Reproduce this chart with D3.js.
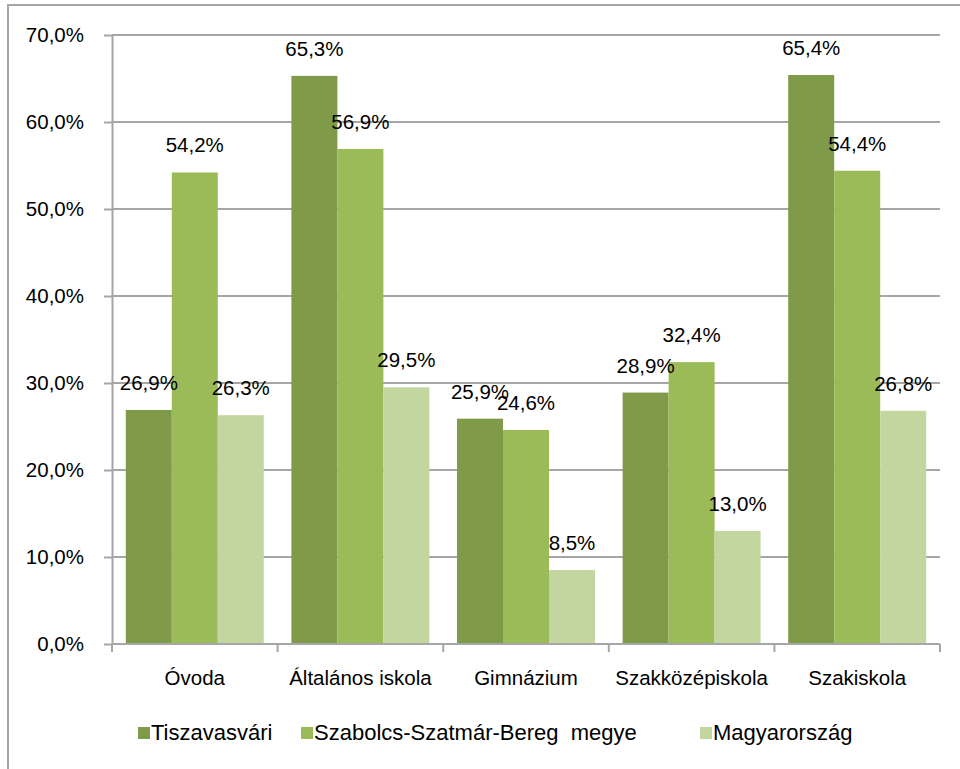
<!DOCTYPE html>
<html>
<head>
<meta charset="utf-8">
<style>
  body { margin: 0; background: #fff; }
  text { font-family: "Liberation Sans", Arial, sans-serif; font-size: 20.5px; fill: #000; }
  .frame { stroke: #a6a6a6; stroke-width: 2px; fill: none; }
  .grid line { stroke: #a6a6a6; stroke-width: 2px; }
  .axis path, .axis line { stroke: #a6a6a6; stroke-width: 2px; fill: none; }
  .label { text-anchor: middle; }
  .legtext { font-size: 22px; }
</style>
</head>
<body>
<div id="chart"></div>
<script src="https://cdn.jsdelivr.net/npm/d3@7"></script>
<script>
var categories = ["Óvoda", "Általános iskola", "Gimnázium", "Szakközépiskola", "Szakiskola"];
var seriesNames = ["Tiszavasvári", "Szabolcs-Szatmár-Bereg  megye", "Magyarország"];
var tiszavasvari = [26.9, 65.3, 25.9, 28.9, 65.4];
var megye = [54.2, 56.9, 24.6, 32.4, 54.4];
var magyarorszag = [26.3, 29.5, 8.5, 13.0, 26.8];
var yTicks = [0, 10, 20, 30, 40, 50, 60, 70];
var colors = ["#7f9a48", "#9bbb59", "#c4d6a0"];

var width = 960, height = 769;
var plotLeft = 112, plotRight = 940, plotTop = 35, plotBottom = 644;

var hu = d3.formatLocale({decimal: ",", thousands: " ", grouping: [3], currency: ["", " Ft"]});
var fmt = hu.format(".1f");

var series = [tiszavasvari, megye, magyarorszag];

var svg = d3.select("#chart").append("svg")
    .attr("width", width)
    .attr("height", height);

// keret
svg.append("path")
    .attr("class", "frame")
    .attr("d", "M8," + height + "L8,5L" + width + ",5");

var y = d3.scaleLinear().domain([0, 70]).range([plotBottom, plotTop]);
var x0 = d3.scaleBand().domain(categories).range([plotLeft, plotRight])
    .paddingInner(0.1667).paddingOuter(0.0833);
var x1 = d3.scaleBand().domain(d3.range(series.length)).range([0, x0.bandwidth()]);

svg.append("g")
    .attr("class", "grid")
    .selectAll("line")
    .data(yTicks.slice(1))
    .enter().append("line")
    .attr("x1", plotLeft).attr("x2", plotRight)
    .attr("y1", function(d){ return y(d); })
    .attr("y2", function(d){ return y(d); });

var groups = svg.selectAll(".cat")
    .data(categories)
    .enter().append("g")
    .attr("class", "cat")
    .attr("transform", function(d){ return "translate(" + x0(d) + ",0)"; });

groups.selectAll("rect")
    .data(function(d, i){ return series.map(function(s, k){ return {k: k, v: s[i]}; }); })
    .enter().append("rect")
    .attr("x", function(d){ return x1(d.k); })
    .attr("width", x1.bandwidth())
    .attr("y", function(d){ return y(d.v); })
    .attr("height", function(d){ return plotBottom - y(d.v); })
    .attr("fill", function(d){ return colors[d.k]; });

var yAxis = svg.append("g")
    .attr("class", "axis")
    .attr("transform", "translate(" + plotLeft + ",0)")
    .call(d3.axisLeft(y).tickValues(yTicks).tickSize(8).tickSizeOuter(0)
        .tickFormat(function(d){ return fmt(d) + "%"; }));
yAxis.selectAll("text")
    .attr("x", -28)
    .style("font-size", "20.5px")
    .style("font-family", "Liberation Sans, Arial, sans-serif")
    .attr("fill", "#000");

var bounds = categories.map(function(c){ return x0(c) - x0.step() * x0.paddingOuter(); });
bounds.push(plotRight);
var xAxis = svg.append("g").attr("class", "axis");
xAxis.append("line").attr("x1", plotLeft).attr("x2", plotRight).attr("y1", plotBottom).attr("y2", plotBottom);
xAxis.selectAll(".tk")
    .data(bounds)
    .enter().append("line")
    .attr("x1", function(d){ return d; }).attr("x2", function(d){ return d; })
    .attr("y1", plotBottom).attr("y2", plotBottom + 8);

svg.selectAll(".xlab")
    .data(categories)
    .enter().append("text")
    .attr("class", "label")
    .attr("x", function(d){ return x0(d) + x0.bandwidth() / 2; })
    .attr("y", 685)
    .text(function(d){ return d; });

// adatcimkek
groups.selectAll(".val")
    .data(function(d, i){ return series.map(function(s, k){ return {k: k, v: s[i]}; }); })
    .enter().append("text")
    .attr("class", "label")
    .attr("x", function(d){ return x1(d.k) + x1.bandwidth() / 2; })
    .attr("y", function(d){ return y(d.v) - 20; })
    .text(function(d){ return fmt(d.v) + "%"; });

// jelmagyarazat
var legendX = [138, 301, 700];
var legend = svg.selectAll(".leg")
    .data(seriesNames)
    .enter().append("g")
    .attr("transform", function(d, i){ return "translate(" + legendX[i] + ",727)"; });
legend.append("rect")
    .attr("width", 12).attr("height", 12)
    .attr("fill", function(d, i){ return colors[i]; });
legend.append("text")
    .attr("class", "legtext")
    .attr("x", 13).attr("y", 13)
    .attr("xml:space", "preserve")
    .text(function(d){ return d; });
</script>
</body>
</html>
